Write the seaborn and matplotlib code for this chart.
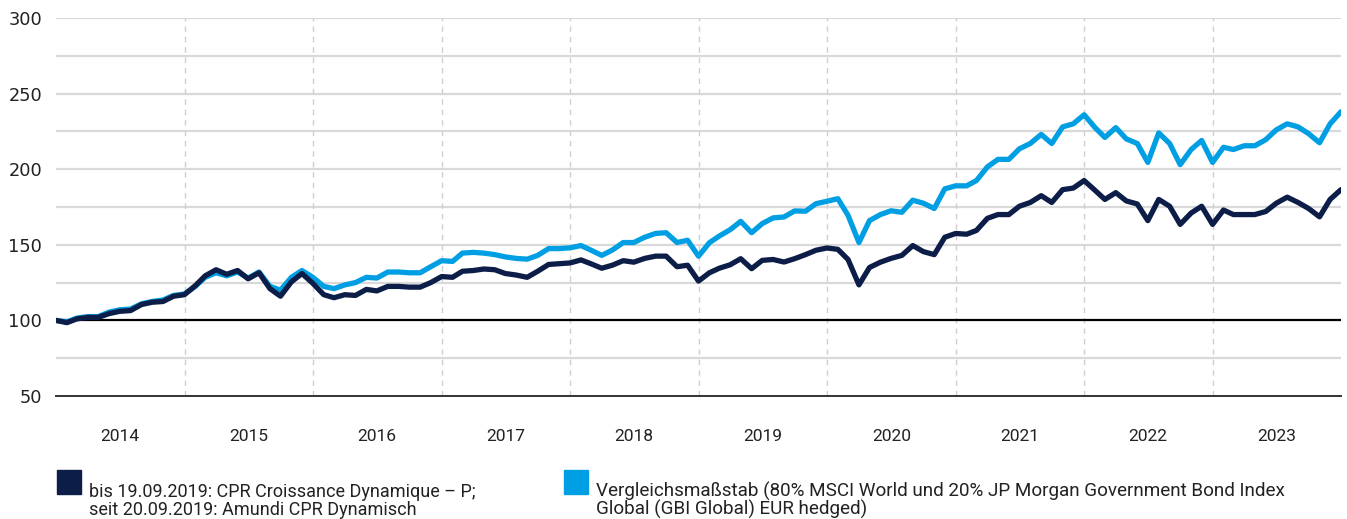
import numpy as np
import pandas as pd
import matplotlib
matplotlib.use("Agg")
import matplotlib.pyplot as plt
import matplotlib.dates as mdates
from matplotlib.patches import Rectangle
import seaborn as sns

# ---------------- data (month-end values, Dec 2013 .. Dec 2023) ----------------
fund = [
    100, 98.5, 101, 102, 102, 104.5, 106, 106.5, 110.5, 112, 112.5, 116, 117,
    123, 129.5, 133.5, 130.5, 133, 127.5, 131.5, 121, 116, 125.5, 131, 124.5,
    117, 115, 117, 116.5, 120.5, 119.5, 122.5, 122.5, 122, 122, 125, 129,
    128.5, 132.5, 133, 134, 133.5, 131, 130, 128.5, 132.5, 137, 137.5, 138,
    140, 137.5, 134.5, 136.5, 139.5, 138.5, 141, 142.5, 142.5, 135.5, 136.5, 126,
    131.5, 134.5, 136.8, 140.8, 134.2, 139.7, 140.3, 138.6, 140.8, 143.5, 146.4, 147.9,
    147, 140.3, 123.5, 135, 138.5, 141, 143, 149.5, 145.5, 143.5, 155, 157.5,
    157, 159.5, 167.5, 170, 170, 175.5, 178, 182.5, 178, 186.5, 187.5, 192.5,
    186, 180, 184.5, 179, 177, 166, 180, 175.5, 163.5, 171, 175.5, 163.5,
    173, 170, 170, 170, 172, 177.5, 181.5, 178, 174, 168.5, 180, 186.5,
]
benchmark = [
    100, 99, 101.5, 102.5, 102.5, 105.5, 107, 107.5, 111, 112.5, 113.5, 116.5, 117.5,
    122.5, 128.5, 131.5, 129.5, 132, 128, 132, 122.5, 120, 128.5, 133, 128.5,
    122.5, 121, 123.5, 125, 128.5, 128, 132, 132, 131.5, 131.5, 135.5, 139.5,
    139, 144.5, 145, 144.5, 143.5, 142, 141, 140.5, 143, 147.5, 147.5, 148,
    149.5, 146.5, 143, 146.5, 151.5, 151.5, 155, 157.5, 158, 151.5, 153, 142.5,
    151.4, 155.8, 160, 165.5, 158, 164, 167.8, 168.4, 172.4, 172.2, 177.2, 178.8,
    180.5, 169.5, 151.5, 166, 170, 172.5, 171.5, 179.5, 177.5, 174, 187, 189,
    189, 192.5, 201.5, 206.5, 206.5, 213.5, 217, 223, 217, 228, 230, 236,
    227.5, 221, 227.5, 220, 217, 204.5, 224, 217, 203, 213, 219, 204.5,
    214.5, 213, 215.5, 215.5, 219.5, 226, 230, 228, 223.5, 217.5, 230, 238,
]
dates = pd.date_range("2013-12-31", periods=len(fund), freq="ME")
years = list(range(2014, 2024))
y_ticks = [50, 100, 150, 200, 250, 300]

fund_label = ("bis 19.09.2019: CPR Croissance Dynamique \u2013 P;",
              "seit 20.09.2019: Amundi CPR Dynamisch")
bench_label = ("Vergleichsma\u00dfstab (80% MSCI World und 20% JP Morgan Government Bond Index",
               "Global (GBI Global) EUR hedged)")

DARK = "#0c1d48"
LIGHT = "#009fe3"

df = pd.DataFrame({
    "date": list(dates) * 2,
    "value": benchmark + fund,
    "series": ["bench"] * len(benchmark) + ["fund"] * len(fund),
})

# ---------------- figure ----------------
sns.set_style("white")
W, H = 1347, 519
fig = plt.figure(figsize=(W / 100, H / 100), dpi=100)
ax = fig.add_axes([56 / W, 1 - 396 / H, (1341 - 56) / W, 378 / H])

# grid lines
for v in range(75, 301, 25):
    if v == 100:
        continue
    ax.axhline(v, color="#d9d9d9", lw=1.6, zorder=1)
for yv in years[1:]:
    ax.axvline(pd.Timestamp(f"{yv}-01-01"), color="#cfcfcf", lw=1.0,
               ls=(0, (4, 3.5)), zorder=1)
ax.axhline(100, color="black", lw=1.6, zorder=2)

sns.lineplot(data=df, x="date", y="value", hue="series",
             palette={"bench": LIGHT, "fund": DARK}, linewidth=3.8,
             legend=False, ax=ax, zorder=3)

ax.set_xlim(dates[0], dates[-1])
ax.set_ylim(50, 300)
ax.set_xlabel("")
ax.set_ylabel("")

for s in ["top", "right", "left"]:
    ax.spines[s].set_visible(False)
ax.spines["bottom"].set_color("#333333")
ax.spines["bottom"].set_linewidth(1.4)

ax.set_yticks(y_ticks)
ax.set_yticklabels([str(v) for v in y_ticks], fontfamily="DejaVu Sans",
                   fontsize=12.8, color="#222222")
ax.tick_params(axis="y", length=0, pad=10)

mid = [pd.Timestamp(f"{y}-07-01") for y in years]
ax.set_xticks(mid)
ax.set_xticklabels([str(y) for y in years], fontfamily="Roboto",
                   fontsize=12.5, color="#222222")
ax.tick_params(axis="x", length=10, width=1.2, color="#333333", pad=14,
               direction="out")

# ---------------- legend ----------------
def legend_item(x_sq, color, lines, size):
    fig.patches.append(Rectangle((x_sq / W, 1 - 494 / H), 24 / W, 24 / H,
                                 transform=fig.transFigure, color=color,
                                 figure=fig))
    for k, ln in enumerate(lines):
        fig.text((x_sq + 32) / W, 1 - (497 + 18 * k) / H, ln,
                 fontfamily="Roboto", fontsize=size, color="#222222",
                 va="baseline", ha="left")

legend_item(57, DARK, fund_label, 13)
legend_item(564, LIGHT, bench_label, 13.6)

fig.savefig("out.png", dpi=100)
